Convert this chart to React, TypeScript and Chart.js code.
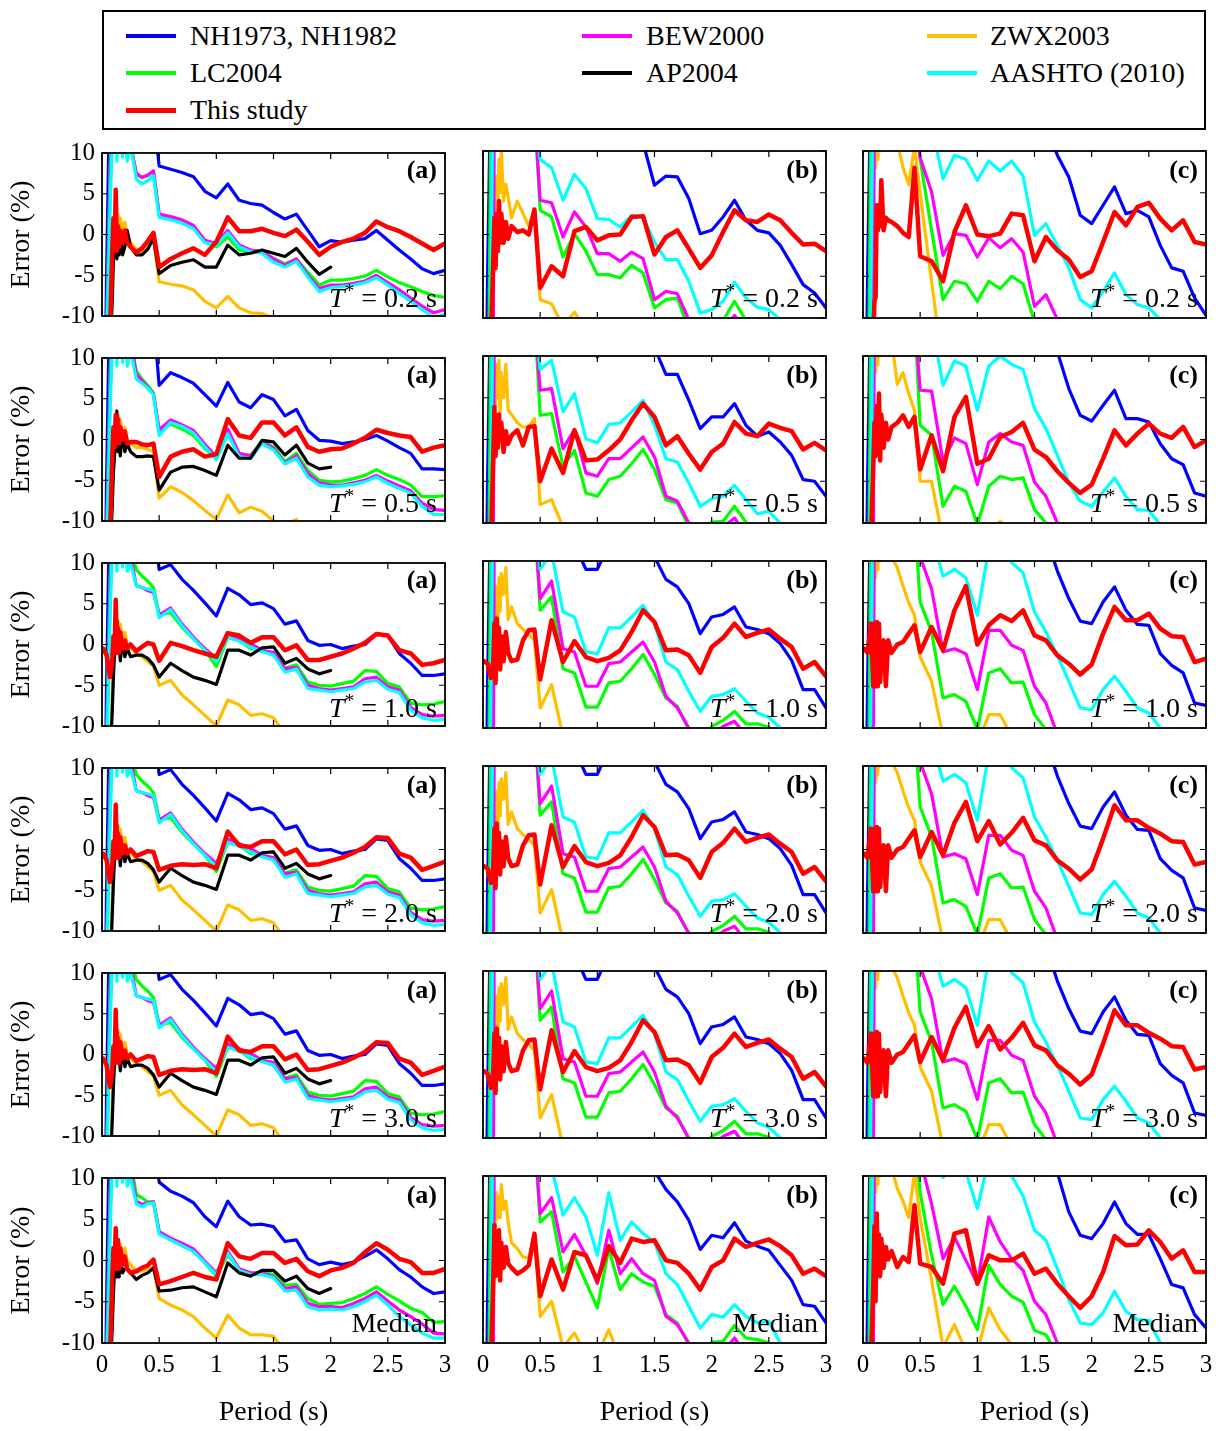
import React, { useEffect, useRef } from "react";
import { Chart, registerables } from "chart.js";

Chart.register(...registerables);

const N = null;

// Periods (s) at which every curve is sampled
const PERIODS = [0.01, 0.04, 0.07, 0.09, 0.1, 0.11, 0.12, 0.13, 0.14, 0.15, 0.16, 0.18, 0.2, 0.22, 0.25, 0.3, 0.35, 0.4, 0.45,
  0.5, 0.6, 0.7, 0.8, 0.9, 1.0, 1.1, 1.2, 1.3, 1.4, 1.5, 1.6, 1.7, 1.8, 1.9, 2.0, 2.1, 2.2, 2.3, 2.4, 2.5, 2.6, 2.7, 2.8, 2.9, 3.0];

const X_TICKS = [0, 0.5, 1, 1.5, 2, 2.5, 3];
const Y_TICKS = [-10, -5, 0, 5, 10];
const PANEL_TAGS = ["(a)", "(b)", "(c)"];
const ROW_TSTAR = ["0.2", "0.5", "1.0", "2.0", "3.0", null];

const SERIES_KEYS = ["nh", "bew", "zwx", "lc", "ap", "aashto", "study"];
const SERIES_LABELS = ["NH1973, NH1982", "BEW2000", "ZWX2003", "LC2004", "AP2004", "AASHTO (2010)", "This study"];
const SERIES_COLORS = ["#0000ff", "#ff00ff", "#ffbf00", "#00ff00", "#000000", "#00ffff", "#ff0000"];
const SERIES_WIDTHS = [3.2, 3.2, 3.2, 3.2, 3.2, 3.2, 4.5];
const DRAW_ORDER = ["study", "ap", "aashto", "bew", "lc", "zwx", "nh"];

// short-period starts shared by several curves
const S_BLUE = [-40, -5, 20, 15, 15, 15, 15, 15, 15, 15, 15, 15, 15, 15, 15, 15, 15, 15, 15];
const S_GREEN_BC = [-40, -30, 15, 15, 15, 15, 15, 15, 15, 15, 15, 15, 15, 15, 15, 15, 15, 15, 15];
const S_CYAN_BC = [-40, -40, -5, 20, 15, 15, 15, 15, 15, 15, 15, 15, 15, 15, 15, 15, 15, 15, 15];
const S_BEW_BC = [-40, -40, -30, -15, 20, 15, 15, 15, 15, 15, 15, 15, 15, 15, 15, 15, 15, 15, 15];

// ---------- Row 1: T* = 0.2 s ----------
const r1a_nh = [...S_BLUE, 8.4, 8.0, 7.6, 7.1, 5.3, 4.5, 6.2, 4.2, 3.8, 3.6, 2.7, 1.9, 2.5, 0.5, -1.5, -0.75, -0.95, -0.7, -0.5, 0.5, -0.7, -1.9, -3.0, -4.2, -4.8, -4.4];
const r1a_bew = [-40, -13, 5, 14, 15, 15, 15, 15, 15, 15, 15, 15, 15, 15, 11, 7.5, 7.0, 7.3, 7.8, 2.5, 2.2, 1.8, 1.1, -0.7, -1.1, 0.5, -1.3, -1.9, -2.1, -3.0, -3.8, -3.0, -5.0, -6.6, -6.2, -6.2, -6.0, -5.7, -5.0, -5.9, -6.8, -7.8, -8.8, -9.6, -9.2];
const r1a_zwx = [N, -40, -14, -6, -2, 1, 2.5, 0, 2.5, 1, 2, 0.5, 1.5, 0, -1, -1.8, -2.2, -1.5, -0.5, -5.8, -6.1, -6.3, -6.8, -8.2, -9.0, -7.6, -9.0, -9.6, -9.7, -10.3, -12];
const r1a_lc = [-40, -12, 8, 15, 15, 15, 15, 15, 15, 15, 15, 15, 15, 15, 11, 7.4, 7.0, 7.2, 7.8, 2.4, 2.1, 1.6, 0.9, -0.7, -1.5, -0.3, -1.9, -2.1, -2.1, -2.9, -3.6, -3.0, -4.6, -6.2, -5.6, -5.6, -5.4, -5.1, -4.4, -5.2, -5.9, -6.4, -7.0, -7.5, -7.7];
const r1a_ap = [N, -40, -15, -8, -3, -2, 2.5, -3, -1.5, -2.5, 0, -2.5, -1.5, 0.5, -1.5, -2.5, -2.5, -1.8, -0.5, -4.8, -3.8, -3.4, -3.1, -4.0, -4.0, -1.3, -2.5, -2.3, -1.9, -2.3, -2.7, -1.7, -3.4, -4.9, -4.0];
const r1a_aashto = [-40, -14, 3, 12, 15, 12, 15, 9, 15, 12, 15, 9.5, 15, 9, 11, 6.8, 6.2, 6.6, 7.2, 2.1, 1.8, 1.4, 0.7, -1.0, -1.3, 0.2, -1.5, -2.1, -2.3, -3.4, -4.0, -3.3, -5.2, -7.0, -6.5, -6.4, -6.2, -5.9, -5.3, -6.2, -7.2, -8.2, -9.2, -10.2, -9.8];
const r1a_study = [-40, -30, -12, -2, 2, -2, 5.5, -2, 1, -1.5, 0.5, -1, 0.5, -1, -1.5, -2.2, -1.7, -0.8, 0.2, -4.0, -3.0, -2.3, -1.7, -2.5, -0.9, 2.1, 0.4, 0.4, 0.7, 0.2, -0.2, 0.6, -0.9, -2.5, -1.5, -0.9, -0.5, 0.2, 1.6, 0.9, 0.4, -0.3, -1.1, -1.9, -1.1];

const r1b_nh = [...S_BLUE, 15, 15, 15, 15, 15, 15, 15, 15, 14, 11, 5.9, 7.0, 6.9, 4.3, 0.1, 0.5, 2.1, 4.1, 1.7, 0.5, 0.2, -1.3, -3.6, -6.0, -7.0, -8.8];
const r1b_bew = [...S_BEW_BC, 4.1, 3.8, -0.3, 2.7, 0.9, -2.3, -2.3, -3.2, -2.1, -2.9, -7.8, -6.8, -7.1, -10.2, -12, -12, -11.5, -9.7, -11.5, -13];
const r1b_zwx = [N, -40, -20, 2, 5, 3, 7, 4, 9, 5, 10, 4, 6, 4.5, 2, 4, 2.5, 1, 3, -7.8, -8.3, -11, -9.3, -11.5];
const r1b_lc = [...S_GREEN_BC, 2.9, 2.1, -2.7, 0.1, -2.0, -4.8, -4.8, -5.2, -3.7, -4.6, -8.8, -7.8, -7.6, -11.4, -13, -12, -10.3, -8.0, -10.3, -12];
const r1b_aashto = [...S_CYAN_BC, 9.0, 8.0, 4.1, 7.2, 5.5, 1.9, 1.8, 0.9, 2.3, 2.0, -0.9, -3.0, -3.0, -5.6, -9.4, -9.0, -8.0, -5.7, -7.6, -8.7, -9.0, -10.2, -12];
const r1b_study = [-40, -30, -12, -3, 2, -4, 2.5, -2, 4, -1, 2.5, -1, 1.5, -0.5, 1, 0.3, 0.5, 0, 3, -6.4, -3.8, -5.0, 0.4, 0.9, -0.7, -0.1, 0, 2.1, 2.2, -2.4, -0.3, 0.5, -1.7, -4.0, -2.5, 0.3, 2.9, 1.7, 1.5, 2.4, 1.7, 0.2, -1.2, -1.1, -2.0];

const r1c_nh = [...S_BLUE, 15, 15, 15, 15, 15, 15, 15, 15, 15, 15, 15, 13, 9.5, 6.9, 2.3, 1.3, 3.5, 5.7, 2.5, 2.9, 2.1, -1.3, -4.0, -4.4, -7.6, -9.7];
const r1c_bew = [...S_BEW_BC, 9.2, 5.1, -2.5, 0.1, -0.1, -2.7, -0.4, -1.6, -0.5, -2.1, -8.6, -7.2, -10.2, -12];
const r1c_zwx = [N, -40, -10, 5, 10, 8, 12, 9, 15, 10, 15, 15, 12, 15, 12, 11, 8, 6, 10.5, 5, -5.7, -16];
const r1c_lc = [...S_GREEN_BC, 9, 0.5, -7.8, -5.6, -5.9, -8.0, -5.6, -6.5, -5.0, -5.9, -10.5, -13];
const r1c_aashto = [...S_CYAN_BC, 15, 13, 6.65, 9.5, 9.0, 6.5, 8.8, 7.6, 8.8, 7.0, -0.1, 1.3, -1.3, -4.0, -7.8, -8.8, -6.8, -4.6, -7.2, -8.4, -8.8, -10.2, -12];
const r1c_study = [-40, -30, -25, -12, -8, -7.5, 3.5, 0.5, 3.5, 1, 6.5, 0.5, 2, 1.7, 1.5, 1, 0.2, -0.3, 8, -2.6, -3.2, -5.6, 0.3, 3.5, 0, -0.2, 0.1, 2.5, 2.3, -3.2, -0.3, -1.9, -3.0, -5.1, -4.4, -0.9, 2.7, 1.1, 3.3, 3.8, 1.9, 0.5, 1.7, -0.9, -1.2];

// ---------- Row 2: T* = 0.5 s ----------
const r2a_nh = [...S_BLUE, 6.65, 8.2, 7.6, 6.9, 5.5, 4.1, 7.0, 4.6, 3.9, 5.5, 4.9, 2.9, 3.7, 1.1, -0.1, -0.2, -0.5, -0.3, 0, 0.5, -0.2, -1.0, -1.7, -3.6, -3.6, -3.7];
const r2a_bew = [-40, -13, 5, 14, 15, 15, 15, 15, 15, 15, 15, 15, 15, 15, 12, 8.0, 7.2, 6.4, 5.6, 1.2, 2.4, 1.8, 1.1, -0.6, -2.1, 1.3, -1.7, -2.0, -0.3, -1.1, -2.9, -2.0, -4.2, -5.3, -5.6, -5.6, -5.3, -5.0, -4.4, -5.1, -5.7, -6.3, -7.8, -8.6, -8.7];
const r2a_zwx = [N, -40, -14, -6, -2, 1, 2, 0, 3, 1, 2.5, 0.5, 1.5, 0, -0.5, -1, -1, -1.2, -1.5, -7.2, -5.8, -6.5, -7.5, -8.7, -9.8, -6.8, -9.0, -8.3, -8.8, -10, -10.4, -9.8, -12];
const r2a_lc = [-40, -12, 8, 15, 15, 15, 15, 15, 15, 15, 15, 15, 15, 15, 12, 8.4, 7.4, 6.65, 5.7, 0.9, 1.9, 1.3, 0.5, -1.1, -2.3, 0.7, -1.9, -1.9, -0.2, -0.9, -2.7, -1.7, -3.8, -5.0, -5.2, -5.1, -4.8, -4.4, -3.7, -4.4, -4.9, -5.6, -7.0, -7.0, -6.9];
const r2a_ap = [N, -40, -15, -8, -4, -2, 1, 3.5, -1.5, 0.5, -2, 1, -1.5, -0.5, -1.5, -2.1, -2.1, -2.0, -2.1, -6.2, -4.0, -3.4, -3.3, -3.8, -4.4, -0.7, -2.3, -2.3, -0.1, -0.3, -1.9, -0.7, -2.9, -3.6, -3.4];
const r2a_aashto = [-40, -14, 3, 12, 15, 11, 15, 9, 15, 11, 15, 9.5, 15, 9, 11, 7.4, 6.9, 6.3, 5.5, 0.5, 2.1, 1.6, 0.8, -0.9, -2.5, 0.7, -2.1, -2.3, -0.5, -1.3, -3.0, -2.3, -4.6, -5.6, -5.8, -5.7, -5.5, -5.2, -4.6, -5.4, -6.0, -6.6, -8.2, -9.2, -9.2];
const r2a_study = [-40, -30, -12, -2, 1.5, -1, 3, 0, 2.5, -0.5, 1.5, 0, 1, -0.5, -0.3, -0.3, -0.6, -0.7, -0.5, -4.6, -2.1, -1.5, -1.2, -2.1, -1.8, 2.5, 0.5, 0.2, 2.1, 2.1, 0.5, 1.5, -0.9, -1.5, -1.2, -1.1, -0.5, 0.2, 1.2, 0.8, 0.5, 0.3, -1.5, -1.0, -0.7];

const r2b_nh = [...S_BLUE, 15, 15, 12, 12, 12, 9.9, 12, 14, 14, 14, 11, 7.8, 7.8, 4.7, 1.3, 2.7, 2.7, 4.3, 1.7, 0.4, 0.9, -0.3, -1.9, -4.8, -5.0, -6.8];
const r2b_bew = [...S_BEW_BC, 5.9, 6.1, -1.1, 1.2, -4.0, -4.4, -2.3, -2.3, -1.0, 0.3, -2.1, -6.8, -7.4, -10, -12, -11.5, -10.5, -9.4, -11.5, -13];
const r2b_zwx = [N, -40, -20, 2, 7, 4, 9, 5, 9.5, 3, 8, 5, 9, 3.5, 3, 2, 1.5, 1.5, 2.5, -7.8, -7.2, -10.5, -14];
const r2b_lc = [...S_GREEN_BC, 2.9, 3.1, -3.2, -1.3, -6.4, -6.8, -4.8, -4.4, -2.9, -1.2, -3.6, -7.2, -7.6, -10.4, -12, -9.9, -9.8, -8.0, -9.9, -11, -10, -11];
const r2b_aashto = [...S_CYAN_BC, 8.4, 9.5, 3.3, 5.5, 0.1, -0.4, 1.8, 2.0, 3.3, 4.7, 1.7, -2.3, -2.7, -5.2, -8.0, -7.1, -6.8, -5.5, -7.2, -8.9, -8.6, -10, -12];
const r2b_study = [-40, -30, -12, -2, 3.9, -2, 2.5, -1, 3, 0, 2, -1.5, 1, -0.5, 0.5, 1.1, -0.7, 1.5, 1.6, -5.0, -1.1, -4.0, 1.1, -2.5, -2.4, -1.3, 0, 2.3, 4.3, 2.7, -0.7, 0.4, -1.7, -3.6, -1.5, -0.5, 2.1, 0.7, 0.4, 1.9, 1.4, 1.0, -1.2, -0.4, -1.3];

const r2c_nh = [...S_BLUE, 15, 15, 15, 15, 15, 15, 15, 15, 15, 15, 15, 13, 10.5, 6.1, 2.9, 2.2, 4.1, 5.9, 2.5, 2.5, 2.1, -0.5, -2.3, -3.0, -6.4, -6.8];
const r2c_bew = [...S_BEW_BC, 5.9, 5.8, -2.7, 0.2, -0.5, -5.4, -0.3, 0.7, -0.3, -0.7, -5.1, -6.8, -10, -12];
const r2c_zwx = [N, -40, -10, 5, 10, 8, 12, 9, 15, 10, 15, 15, 12, 15, 12, 6.6, 8, 5.5, 3.5, -5.0, -5.0, -12, N, N, N, -11, -9.8, -11];
const r2c_lc = [...S_GREEN_BC, 1.7, 0.5, -8.0, -5.6, -6.2, -10.2, -5.6, -4.4, -4.8, -4.6, -8.4, -10, -12];
const r2c_aashto = [...S_CYAN_BC, 15, 14, 6.5, 9.4, 8.8, 3.5, 8.8, 10, 9.0, 8.4, 3.7, 1.3, -1.9, -5.2, -7.4, -8.0, -6.3, -4.6, -6.8, -8.4, -8.5, -10.2, -12];
const r2c_study = [-40, -30, -12, -3, 2, -2, 4, -1, 5.5, -2.5, 3, -1, 2, 0, 1.5, 2, 2.9, 1.5, 2.7, -3.6, 0.5, -3.8, 2.7, 5.1, -2.9, -2.3, 0.3, 0.9, 2.0, -1.2, -2.1, -3.8, -5.2, -6.4, -5.4, -2.3, 1.1, -0.7, 0.7, 1.9, 0.7, 0.2, 1.5, -0.9, -0.1];

// ---------- Row 3: T* = 1.0 s ----------
const r3a_nh = [...S_BLUE, 9.2, 9.8, 8.0, 6.65, 5.1, 3.5, 6.9, 6.1, 4.9, 5.1, 4.4, 2.5, 2.9, 0.5, -0.1, 0, -0.5, -0.2, 0, 1.3, 1.1, -1.1, -2.3, -3.8, -3.8, -3.6];
const r3a_bew = [-40, -13, 5, 14, 15, 15, 15, 15, 15, 15, 15, 15, 15, 15, 11, 7.2, 7.0, 6.6, 6.4, 3.6, 4.5, 2.5, 0.9, -0.5, -1.7, 1.3, 0.7, 0.1, -0.7, -1.0, -3.0, -2.8, -5.0, -5.4, -5.6, -5.4, -5.2, -4.2, -4.0, -5.2, -5.6, -7.7, -8.6, -8.8, -8.7];
const r3a_zwx = [N, -40, -14, -6, -2, 1, 2, 0.5, 3, 1, 2.5, 0.5, 1.5, 0, -0.5, -1.1, -1.5, -2.1, -2.7, -5.0, -4.4, -6.2, -7.4, -8.7, -10.0, -6.8, -7.4, -8.7, -8.5, -9.0, -11];
const r3a_lc = [-40, -12, 8, 15, 15, 15, 15, 15, 15, 15, 15, 15, 15, 15, 12, 9.2, 8.4, 7.8, 7.0, 3.7, 3.9, 2.1, 0.7, -0.7, -2.7, 0.9, 0.5, -0.5, -0.6, -1.3, -2.9, -2.5, -4.6, -5.0, -5.1, -4.8, -4.5, -3.2, -3.3, -4.8, -5.2, -7.2, -7.4, -7.3, -7.0];
const r3a_ap = [N, -40, -15, -8, -4, -1, 1, 2.9, -1, 0, -2, 0.5, -1.5, -0.5, -1.5, -1.3, -1.3, -1.7, -2.5, -4.0, -2.3, -3.2, -4.0, -4.4, -4.9, -0.7, -0.7, -1.3, -0.4, -0.3, -2.3, -1.7, -3.0, -3.6, -3.2];
const r3a_aashto = [-40, -14, 3, 12, 15, 11, 15, 9, 15, 10, 15, 9.5, 15, 9, 10, 7.2, 7.0, 6.8, 6.6, 3.3, 4.3, 2.3, 0.7, -0.7, -2.1, 0.9, 0.4, -0.3, -0.9, -1.3, -3.4, -3.0, -5.4, -5.6, -5.8, -5.6, -5.4, -4.6, -4.4, -5.5, -5.9, -8.0, -9.0, -9.3, -9.2];
const r3a_study = [-0.5, -1.3, -4, -2, 1, -1, 5.5, -1, 2, -1, 1.5, -0.5, 0.5, -0.5, 0, -0.8, -0.3, 0.2, 0, -2.0, 0.2, -0.2, -0.7, -1.1, -1.5, 1.4, 1.1, 0.2, 0.9, 0.9, -0.7, -0.1, -1.9, -1.9, -1.5, -1.1, -0.5, 0.2, 1.3, 1.1, -0.7, -1.1, -2.5, -2.3, -1.9];

const r3b_nh = [...S_BLUE, 15, 15, 15, 12, 9.0, 9.0, 12, 14, 14, 14, 10.5, 7.8, 6.9, 4.9, 1.3, 3.3, 3.6, 4.5, 2.1, 1.8, 1.3, 0.1, -1.9, -5.4, -5.4, -7.6];
const r3b_bew = [...S_BEW_BC, 5.5, 7.6, -0.5, -0.9, -5.0, -5.0, -2.3, -2.1, -0.9, 0.3, -2.1, -6.2, -7.6, -10, -12, -11, -9.8, -9.2, -11, -13];
const r3b_zwx = [N, -40, -20, 1, 5, 3, 7, 2, 8, 4, 8.5, 6, 9.2, 3, 4.5, 2.5, 1.8, 1.2, 0.5, -7.6, -4.8, -11];
const r3b_lc = [...S_GREEN_BC, 4.1, 5.7, -2.9, -3.4, -7.5, -7.5, -4.6, -4.4, -2.9, -1.2, -3.6, -6.4, -7.4, -10.2, -12, -9.8, -9.1, -8.0, -9.5, -9.5, -9.9, -11];
const r3b_aashto = [...S_CYAN_BC, 9.0, 11, 3.9, 3.3, -0.9, -1.1, 2.0, 2.0, 3.3, 4.7, 2.5, -2.1, -3.0, -5.6, -8.0, -6.2, -6.0, -5.3, -6.8, -8.2, -8.7, -10, -12];
const r3b_study = [-2.0, -2.3, -4, -2, 2.5, -4.6, 3.1, -1, 2, -3, 1, -2, 1.5, -1, -2, -1.8, 0.5, 1.7, 1.8, -4.2, 2.9, -2.1, 0.4, -1.5, -2.0, -1.6, -0.7, 1.5, 4.1, 2.7, -0.7, -0.6, -1.3, -3.4, -0.3, 0.8, 2.5, 0.9, 1.4, 1.8, 0.7, -0.3, -2.9, -2.1, -3.8];

const r3c_nh = [...S_BLUE, 15, 15, 15, 15, 15, 15, 15, 15, 15, 15, 15, 13, 8.8, 5.5, 2.8, 2.5, 5.1, 6.9, 4.1, 2.4, 2.3, -1.1, -2.5, -3.4, -7.0, -7.3];
const r3c_bew = [...S_BEW_BC, 10.5, 6.65, -0.9, -0.5, -1.1, -5.4, 1.7, 1.7, -0.1, -0.7, -5.0, -7.0, -10.8];
const r3c_zwx = [N, -40, -10, 5, 10, 8, 12, 9, 15, 10, 15, 15, 12, 15, 10.5, 9.2, 7, 5, 3.5, -1.5, -4.4, -11, -14, -14, -12, -8.4, -8.4, -11, -14];
const r3c_lc = [...S_GREEN_BC, 5.1, 1.5, -6.4, -6.0, -6.8, -10.2, -3.4, -2.9, -4.6, -4.5, -8.4, -10.2, -13];
const r3c_aashto = [...S_CYAN_BC, 15, 13, 8.2, 9.0, 8.0, 3.5, 11.5, 14, 9.8, 8.6, 3.9, 1.5, -1.3, -4.4, -7.6, -7.8, -5.4, -3.8, -5.6, -7.6, -8.2, -10, -12];
const r3c_study = [-0.5, -1.0, 2.5, -5, 2.5, -5, 2.7, -5, 2.5, -4.5, -2, 0.5, -5, 0.5, -1, 0, 0.3, 1.3, 2.3, -0.9, 2.1, -0.7, 4.1, 7.0, 0, 2.3, 3.5, 2.8, 4.1, 1.1, 0.5, -1.3, -2.3, -3.6, -2.4, 1.3, 4.5, 2.9, 2.9, 3.7, 1.9, 1.0, 0.9, -2.1, -1.7];

// ---------- Rows 4 and 5: T* = 2.0 s and 3.0 s (curves that differ from row 3) ----------
const r4a_study = [-0.5, -1.3, -4, -2, 1, -1, 5.5, -1, 2, -1, 1.5, -0.5, 0.5, -0.5, 0, -0.8, -0.5, -0.2, -0.3, -2.5, -2.0, -1.8, -1.9, -1.8, -2.3, 2.2, 0.5, 0.3, 1.0, 1.0, -0.6, 0.0, -1.9, -1.8, -1.4, -1.0, -0.4, 0.3, 1.5, 1.4, -0.5, -1.0, -2.5, -2.0, -1.5];
const r4c_study = [-0.5, -1.0, 2.5, -5, 2.5, -5, 2.7, -5, 2.5, -4.5, -2, 0.5, -5, 0.5, -1, 0, 0.3, 1.3, 2.3, -0.9, 2.1, -0.7, 3.2, 5.7, 1.0, 3.4, 0.6, 2.0, 3.8, 1.1, 0.5, -1.3, -2.3, -3.6, -2.4, 1.3, 5.3, 3.5, 3.5, 2.6, 1.9, 1.0, 0.9, -1.8, -1.5];

// ---------- Row 6: Median ----------
const r6a_nh = [...S_BLUE, 9.5, 8.4, 7.8, 7.0, 5.3, 4.1, 7.2, 5.3, 4.3, 4.4, 4.1, 2.3, 2.5, 0.2, -0.5, -0.2, -0.5, -0.2, 0.5, 1.3, 0.2, -1.1, -2.0, -3.2, -4.0, -3.8];
const r6a_bew = [-40, -13, 5, 14, 15, 15, 15, 15, 15, 15, 15, 15, 15, 15, 11, 7.2, 6.8, 7.0, 7.1, 3.5, 2.7, 2.1, 1.4, -0.1, -1.5, 1.1, -1.0, -1.5, -1.5, -2.0, -3.4, -3.2, -5.2, -5.6, -5.6, -5.7, -5.2, -4.6, -3.8, -4.9, -6.0, -6.8, -7.7, -8.8, -8.9];
const r6a_zwx = [N, -40, -14, -6, -2, 1, 2.5, 0, 2.5, 1, 2, 0.5, 1.5, 0, -0.5, -1.3, -1.3, -1.0, -0.9, -4.6, -5.4, -6.0, -6.8, -8.2, -9.4, -6.6, -8.2, -9.0, -9.0, -9.2, -11];
const r6a_lc = [-40, -12, 8, 15, 15, 15, 15, 15, 15, 15, 15, 15, 15, 15, 12, 8.0, 7.6, 7.1, 7.1, 3.5, 2.5, 1.8, 1.1, -0.3, -1.9, 0.7, -1.1, -1.7, -1.3, -1.7, -3.0, -2.9, -4.6, -5.3, -5.2, -5.1, -4.6, -4.0, -3.2, -4.1, -4.9, -5.8, -6.3, -7.5, -7.4];
const r6a_ap = [N, -40, -15, -8, -4, -1, 1.1, -2, 0.5, -2, 0.5, -1.5, -1, -1, -1.5, -2.3, -1.8, -1.5, -0.9, -3.7, -3.6, -3.3, -3.2, -3.8, -4.4, -0.3, -1.5, -1.9, -1.2, -1.2, -2.5, -1.9, -3.4, -4.0, -3.4];
const r6a_aashto = [-40, -14, 3, 12, 15, 11, 15, 9, 15, 10, 15, 9.5, 15, 9, 10, 6.9, 6.5, 6.9, 7.0, 3.2, 2.5, 1.8, 1.1, -0.3, -1.7, 0.9, -1.2, -1.7, -1.7, -2.1, -3.7, -3.6, -5.6, -6.0, -5.9, -6.0, -5.6, -5.0, -4.2, -5.4, -6.8, -7.8, -8.8, -9.4, -9.4];
const r6a_study = [-40, -30, -12, -2, 1.5, -1, 3.9, -1, 2.5, -1, 1.5, -0.5, 0.5, -1, -1.5, -1.3, -0.9, -0.6, 0.1, -2.9, -2.5, -2.0, -1.5, -2.0, -2.3, 2.1, 0.5, 0.2, 0.9, 0.9, -0.3, 0.2, -1.3, -1.9, -1.2, -0.9, -0.3, 1.0, 2.1, 1.3, 0.2, -0.2, -1.5, -1.5, -1.0];

const r6b_nh = [...S_BLUE, 15, 15, 15, 15, 15, 15, 15, 15, 14, 14, 10.6, 8.4, 6.9, 4.7, 1.2, 2.9, 2.6, 4.4, 2.2, 1.6, 1.1, -0.7, -2.5, -5.4, -5.6, -7.6];
const r6b_bew = [...S_BEW_BC, 5.5, 7.4, 0.9, 3.0, 0.5, -2.9, 3.5, -1.7, 0.1, -1.7, -2.5, -6.8, -7.8, -10, -12, -11.5, -11, -9.4, -11.5, -13];
const r6b_zwx = [N, -40, -20, 0, 6, 4, 8, 5, 7.5, 5, 9, 6, 7, 4.5, 2, 1.3, 0.3, 0.2, 3.1, -6.8, -5.0, -10.5, -8.8, -11.5, -11.5, -8.4, -12];
const r6b_lc = [...S_GREEN_BC, 4.5, 5.7, -1.5, 0.4, -2.7, -5.8, 1.3, -3.6, -1.7, -2.7, -3.2, -6.6, -7.6, -10.2, -12, -9.9, -9.8, -7.9, -9.4, -9.6, -10, -12];
const r6b_aashto = [...S_CYAN_BC, 15, 11, 5.3, 7.4, 5.1, 0.5, 8.0, 2.3, 4.5, 3.1, 2.1, -1.7, -3.0, -5.6, -8.2, -6.6, -6.9, -5.4, -6.8, -7.6, -7.4, -10, -12];
const r6b_study = [-40, -30, -12, -2.5, 4.1, -2, 3, -1, 3.5, -2.5, 2, -1, 1.5, -0.5, -1, -1.7, -1.3, -0.7, 3.1, -4.4, 0, -3.6, 0.9, 0.5, -2.5, 1.6, -0.4, 2.5, 2.1, 2.3, -0.1, -0.4, -1.7, -3.6, -0.9, -0.1, 2.5, 1.5, 2.0, 2.4, 1.6, 0.5, -1.7, -1.1, -2.0];

const r6c_nh = [...S_BLUE, 15, 15, 15, 15, 15, 15, 15, 15, 15, 15, 15, 13, 10.4, 5.7, 2.9, 2.5, 4.3, 6.9, 4.3, 3.0, 3.0, 0.1, -3.0, -3.4, -6.6, -8.2];
const r6c_bew = [...S_BEW_BC, 12, 6.65, 0.1, 2.7, -0.1, -2.9, 5.1, 2.1, 0.1, -1.3, -5.0, -6.6, -10, -12];
const r6c_zwx = [N, -40, -10, 5, 10, 8, 12, 9, 15, 10, 15, 15, 12, 15, 11, 8.5, 7, 5, 10.5, 5, -2.5, -10.5, -7.8, -11, -11, -5.8, -8.4, -10.2, -13];
const r6c_lc = [...S_GREEN_BC, 8, 0.5, -5.4, -3.2, -5.6, -8.4, -0.7, -3.0, -4.4, -5.1, -8.5, -9.0, -11.5];
const r6c_aashto = [...S_CYAN_BC, 15, 12, 9.8, 12, 10.5, 6.1, 12, 14, 10, 7.6, 3.5, 2.3, -1.1, -4.8, -7.6, -7.8, -6.4, -3.8, -6.2, -7.2, -7.3, -10, -12];
const r6c_study = [-40, -30, -12, -3, 4, -5, 5.5, -1.5, 3, -2, 2.5, -1, 1.5, 0, 1, -0.9, 0.3, -0.3, 6.5, -0.5, -0.9, -2.9, 3.1, 3.5, -2.9, 0.5, -0.1, -0.1, 0.7, -1.7, -1.1, -2.9, -4.4, -5.8, -4.4, -1.5, 2.8, 1.7, 1.8, 3.5, 2.1, 0.1, 1.1, -1.5, -1.5];

const row1 = [
  { nh: r1a_nh, bew: r1a_bew, zwx: r1a_zwx, lc: r1a_lc, ap: r1a_ap, aashto: r1a_aashto, study: r1a_study },
  { nh: r1b_nh, bew: r1b_bew, zwx: r1b_zwx, lc: r1b_lc, ap: null, aashto: r1b_aashto, study: r1b_study },
  { nh: r1c_nh, bew: r1c_bew, zwx: r1c_zwx, lc: r1c_lc, ap: null, aashto: r1c_aashto, study: r1c_study },
];
const row2 = [
  { nh: r2a_nh, bew: r2a_bew, zwx: r2a_zwx, lc: r2a_lc, ap: r2a_ap, aashto: r2a_aashto, study: r2a_study },
  { nh: r2b_nh, bew: r2b_bew, zwx: r2b_zwx, lc: r2b_lc, ap: null, aashto: r2b_aashto, study: r2b_study },
  { nh: r2c_nh, bew: r2c_bew, zwx: r2c_zwx, lc: r2c_lc, ap: null, aashto: r2c_aashto, study: r2c_study },
];
const row3 = [
  { nh: r3a_nh, bew: r3a_bew, zwx: r3a_zwx, lc: r3a_lc, ap: r3a_ap, aashto: r3a_aashto, study: r3a_study },
  { nh: r3b_nh, bew: r3b_bew, zwx: r3b_zwx, lc: r3b_lc, ap: null, aashto: r3b_aashto, study: r3b_study },
  { nh: r3c_nh, bew: r3c_bew, zwx: r3c_zwx, lc: r3c_lc, ap: null, aashto: r3c_aashto, study: r3c_study },
];
const row4 = [
  { nh: r3a_nh, bew: r3a_bew, zwx: r3a_zwx, lc: r3a_lc, ap: r3a_ap, aashto: r3a_aashto, study: r4a_study },
  { nh: r3b_nh, bew: r3b_bew, zwx: r3b_zwx, lc: r3b_lc, ap: null, aashto: r3b_aashto, study: r3b_study },
  { nh: r3c_nh, bew: r3c_bew, zwx: r3c_zwx, lc: r3c_lc, ap: null, aashto: r3c_aashto, study: r4c_study },
];
const row6 = [
  { nh: r6a_nh, bew: r6a_bew, zwx: r6a_zwx, lc: r6a_lc, ap: r6a_ap, aashto: r6a_aashto, study: r6a_study },
  { nh: r6b_nh, bew: r6b_bew, zwx: r6b_zwx, lc: r6b_lc, ap: null, aashto: r6b_aashto, study: r6b_study },
  { nh: r6c_nh, bew: r6c_bew, zwx: r6c_zwx, lc: r6c_lc, ap: null, aashto: r6c_aashto, study: r6c_study },
];
const PANELS: any[] = [row1, row2, row3, row4, row4, row6];

// ---------- layout ----------
const PLOT_LEFT = [102, 483, 863];
const PLOT_TOP = [151, 356, 561, 766, 971, 1176];
const PLOT_W = 343;
const PLOT_H = 167;
const M_LEFT = 100;
const M_TOP = 20;
const M_RIGHT = 20;
const M_BOTTOM = 20;
const M_BOTTOM_LAST = 86;
const FONT = "'Liberation Serif', 'Times New Roman', serif";

const framePlugin = {
  id: "frame",
  afterDatasetsDraw(chart: any) {
    const { ctx, chartArea, scales } = chart;
    const { left, right, top, bottom } = chartArea;
    ctx.save();
    ctx.strokeStyle = "#000";
    ctx.lineWidth = 1.8;
    ctx.strokeRect(left, top, right - left, bottom - top);
    ctx.lineWidth = 1.2;
    ctx.beginPath();
    for (const v of X_TICKS) {
      const px = scales.x.getPixelForValue(v);
      ctx.moveTo(px, bottom); ctx.lineTo(px, bottom - 6);
      ctx.moveTo(px, top); ctx.lineTo(px, top + 6);
    }
    for (const v of Y_TICKS) {
      const py = scales.y.getPixelForValue(v);
      ctx.moveTo(left, py); ctx.lineTo(left + 6, py);
      ctx.moveTo(right, py); ctx.lineTo(right - 6, py);
    }
    ctx.stroke();
    ctx.restore();
  },
};

function Panel({ row, col }: { row: number; col: number }) {
  const ref = useRef<HTMLCanvasElement | null>(null);
  const isLeft = col === 0;
  const isBottom = row === PLOT_TOP.length - 1;
  const w = M_LEFT + PLOT_W + M_RIGHT;
  const h = M_TOP + PLOT_H + (isBottom ? M_BOTTOM_LAST : M_BOTTOM);

  useEffect(() => {
    const panel = PANELS[row][col];
    const datasets = DRAW_ORDER.filter((k) => panel[k]).map((k) => {
      const i = SERIES_KEYS.indexOf(k);
      const vals = panel[k];
      return {
        label: SERIES_LABELS[i],
        data: PERIODS.map((p, j) => ({ x: p, y: vals[j] ?? null })),
        borderColor: SERIES_COLORS[i],
        backgroundColor: SERIES_COLORS[i],
        borderWidth: SERIES_WIDTHS[i],
        pointRadius: 0,
        pointHoverRadius: 0,
        tension: 0,
        fill: false,
        spanGaps: false,
        borderJoinStyle: "round",
        borderCapStyle: "round",
      };
    });
    const chart = new Chart(ref.current as HTMLCanvasElement, {
      type: "line",
      data: { datasets } as any,
      options: {
        animation: false,
        responsive: false,
        maintainAspectRatio: false,
        devicePixelRatio: 1,
        events: [],
        layout: { padding: { left: 0, top: M_TOP, right: M_RIGHT, bottom: 0 } },
        plugins: { legend: { display: false }, tooltip: { enabled: false } },
        scales: {
          x: {
            type: "linear",
            position: "bottom",
            min: 0,
            max: 3,
            grid: { display: false, drawTicks: false },
            border: { display: false },
            afterBuildTicks: (s: any) => { s.ticks = X_TICKS.map((v) => ({ value: v })); },
            ticks: {
              display: isBottom,
              autoSkip: false,
              maxRotation: 0,
              padding: 7,
              color: "#000",
              font: { family: FONT, size: 25 },
              callback: (v: any) => String(v),
            },
            title: {
              display: isBottom,
              text: "Period (s)",
              color: "#000",
              font: { family: FONT, size: 28, lineHeight: 1 },
              padding: { top: 0, bottom: 2 },
            },
            afterFit: (s: any) => { s.height = isBottom ? M_BOTTOM_LAST : M_BOTTOM; },
          },
          y: {
            type: "linear",
            position: "left",
            min: -10,
            max: 10,
            grid: { display: false, drawTicks: false },
            border: { display: false },
            afterBuildTicks: (s: any) => { s.ticks = Y_TICKS.map((v) => ({ value: v })); },
            ticks: {
              display: isLeft,
              autoSkip: false,
              padding: 7,
              color: "#000",
              font: { family: FONT, size: 25 },
              callback: (v: any) => String(v),
            },
            title: {
              display: isLeft,
              text: "Error (%)",
              color: "#000",
              font: { family: FONT, size: 28, lineHeight: 1 },
              padding: { top: 6, bottom: 0 },
            },
            afterFit: (s: any) => { s.width = M_LEFT; },
          },
        },
      } as any,
      plugins: [framePlugin],
    });
    return () => chart.destroy();
  }, [row, col]);

  return (
    <canvas
      ref={ref}
      width={w}
      height={h}
      style={{ position: "absolute", left: PLOT_LEFT[col] - M_LEFT, top: PLOT_TOP[row] - M_TOP, width: w, height: h }}
    />
  );
}

// legend layout: [series index, column, row]
const LEGEND_ITEMS = [[0, 0, 0], [1, 1, 0], [2, 2, 0], [3, 0, 1], [4, 1, 1], [5, 2, 1], [6, 0, 2]];
const LEG_LINE_X = [126, 582, 927];
const LEG_TEXT_X = [190, 646, 990];
const LEG_ROW_Y = [36, 73, 110];
const LEG_LINE_H = [3.5, 3.5, 3.5, 3.5, 3.5, 3.5, 5];

export default function App() {
  return (
    <div style={{ position: "absolute", left: 0, top: 0, width: 1225, height: 1431, overflow: "hidden", background: "#fff", fontFamily: FONT, color: "#000" }}>
      <div style={{ position: "absolute", left: 102, top: 10, width: 1104, height: 120, border: "2px solid #000", boxSizing: "border-box" }} />
      {LEGEND_ITEMS.map(([si, c, r]) => (
        <React.Fragment key={si}>
          <div style={{ position: "absolute", left: LEG_LINE_X[c], top: LEG_ROW_Y[r] - LEG_LINE_H[si] / 2, width: 50, height: LEG_LINE_H[si], background: SERIES_COLORS[si] }} />
          <div style={{ position: "absolute", left: LEG_TEXT_X[c], top: LEG_ROW_Y[r] - 14, fontSize: 28, lineHeight: "28px", whiteSpace: "nowrap" }}>{SERIES_LABELS[si]}</div>
        </React.Fragment>
      ))}
      {PLOT_TOP.map((_, r) => PLOT_LEFT.map((__, c) => <Panel key={`p${r}${c}`} row={r} col={c} />))}
      {PLOT_TOP.map((top, r) => PLOT_LEFT.map((left, c) => (
        <React.Fragment key={`t${r}${c}`}>
          <div style={{ position: "absolute", left, top: top + 5, width: PLOT_W - 8, textAlign: "right", fontSize: 26, fontWeight: "bold", lineHeight: "28px", whiteSpace: "nowrap" }}>
            {PANEL_TAGS[c]}
          </div>
          <div style={{ position: "absolute", left, top: top + PLOT_H - 34, width: PLOT_W - 8, textAlign: "right", fontSize: 28, lineHeight: "28px", whiteSpace: "nowrap" }}>
            {ROW_TSTAR[r] ? (
              <>
                <i>T</i>
                <span style={{ fontSize: "0.7em", position: "relative", top: "-0.5em" }}>*</span> = {ROW_TSTAR[r]} s
              </>
            ) : (
              "Median"
            )}
          </div>
        </React.Fragment>
      )))}
    </div>
  );
}
